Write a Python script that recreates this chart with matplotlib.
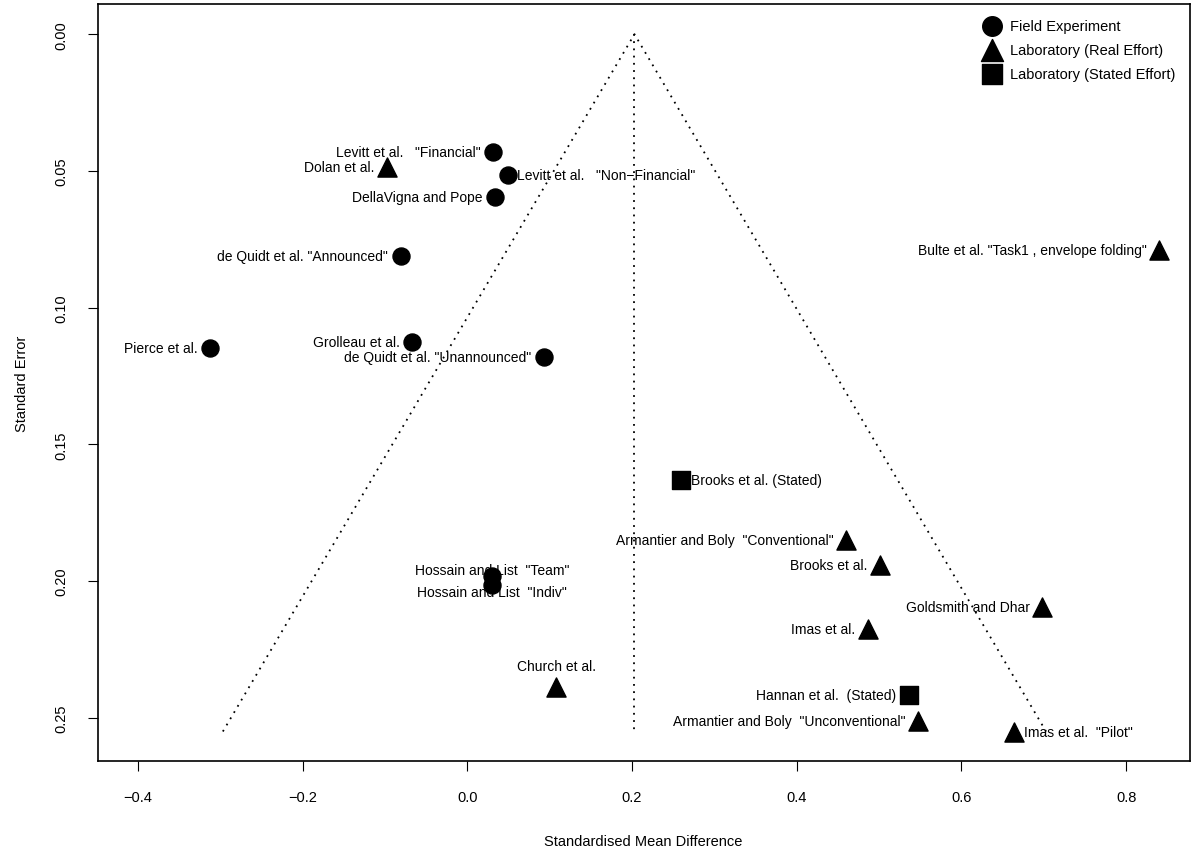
import matplotlib
matplotlib.use("Agg")
import matplotlib.pyplot as plt

plt.rcParams['font.family'] = ['Liberation Sans', 'DejaVu Sans']

# field experiments (circles)
field_names = ['Levitt et al.   "Financial"', 'Levitt et al.   "Non\u2212Financial"', 'DellaVigna and Pope',
               'de Quidt et al. "Announced"', 'Pierce et al.', 'Grolleau et al.',
               'de Quidt et al. "Unannounced"', 'Hossain and List  "Team"', 'Hossain and List  "Indiv"']
field_smd = [0.031, 0.049, 0.034, -0.081, -0.312, -0.067, 0.093, 0.030, 0.030]
field_se = [0.043, 0.0515, 0.0595, 0.081, 0.1147, 0.1127, 0.1182, 0.198, 0.2014]
field_pos = ['l', 'r', 'l', 'l', 'l', 'l', 'l', 'cu', 'cd']

# laboratory, real effort (triangles)
real_names = ['Dolan et al.', 'Bulte et al. "Task1 , envelope folding"', 'Armantier and Boly  "Conventional"',
              'Brooks et al.', 'Goldsmith and Dhar', 'Imas et al.', 'Church et al.',
              'Armantier and Boly  "Unconventional"', 'Imas et al.  "Pilot"']
real_smd = [-0.098, 0.84, 0.460, 0.501, 0.698, 0.486, 0.108, 0.547, 0.664]
real_se = [0.0487, 0.079, 0.185, 0.194, 0.2096, 0.2175, 0.2388, 0.2513, 0.255]
real_pos = ['l', 'l', 'l', 'l', 'l', 'l', 't', 'l', 'r']

# laboratory, stated effort (squares)
stated_names = ['Brooks et al. (Stated)', 'Hannan et al.  (Stated)']
stated_smd = [0.260, 0.536]
stated_se = [0.163, 0.2418]
stated_pos = ['r', 'l']

pooled = 0.203
se_max = 0.255

fig = plt.figure(figsize=(12.04, 8.54), dpi=100)
ax = fig.add_axes([0.081, 0.108, 0.907, 0.886])

ax.plot([pooled - 1.96 * se_max, pooled, pooled + 1.96 * se_max], [se_max, 0, se_max],
        color='black', linestyle=(0, (1, 3)), lw=1.3)
ax.plot([pooled, pooled], [0, se_max], color='black', linestyle=(0, (1, 3)), lw=1.3)


def draw_group(names, smd, se, pos, marker, label, size):
    ax.scatter(smd, se, marker=marker, s=size, color='black', label=label, zorder=3)
    for n, x, y, p in zip(names, smd, se, pos):
        if p == 'l':
            ax.annotate(n, (x, y), xytext=(-9, 0), textcoords='offset points', ha='right', va='center', fontsize=10)
        elif p == 'r':
            ax.annotate(n, (x, y), xytext=(7, 0), textcoords='offset points', ha='left', va='center', fontsize=10)
        elif p == 't':
            ax.annotate(n, (x, y), xytext=(0, 10), textcoords='offset points', ha='center', va='bottom', fontsize=10)
        elif p == 'cu':
            ax.annotate(n, (x, y), xytext=(0, 4), textcoords='offset points', ha='center', va='center', fontsize=10)
        else:
            ax.annotate(n, (x, y), xytext=(0, -5), textcoords='offset points', ha='center', va='center', fontsize=10)


draw_group(field_names, field_smd, field_se, field_pos, 'o', 'Field Experiment', 150)
draw_group(real_names, real_smd, real_se, real_pos, '^', 'Laboratory (Real Effort)', 190)
draw_group(stated_names, stated_smd, stated_se, stated_pos, 's', 'Laboratory (Stated Effort)', 150)

ax.set_xlim(-0.449, 0.877)
ax.set_ylim(0.2657, -0.011)
ax.set_xticks([-0.4, -0.2, 0.0, 0.2, 0.4, 0.6, 0.8])
ax.set_xticklabels(['\u22120.4', '\u22120.2', '0.0', '0.2', '0.4', '0.6', '0.8'])
ax.set_yticks([0.0, 0.05, 0.10, 0.15, 0.20, 0.25])
ax.set_yticklabels(['0.00', '0.05', '0.10', '0.15', '0.20', '0.25'], rotation=90, va='center')
ax.tick_params(labelsize=10.5, length=7, pad=14)
ax.set_xlabel('Standardised Mean Difference', fontsize=10.5, labelpad=22)
ax.set_ylabel('Standard Error', fontsize=10.5, labelpad=18)
for s in ax.spines.values():
    s.set_linewidth(1.2)

ax.legend(loc='upper right', frameon=False, fontsize=10.5, handletextpad=0.2,
          borderaxespad=0.6, labelspacing=0.7, markerscale=1.15)

fig.savefig('out.png', dpi=100)
